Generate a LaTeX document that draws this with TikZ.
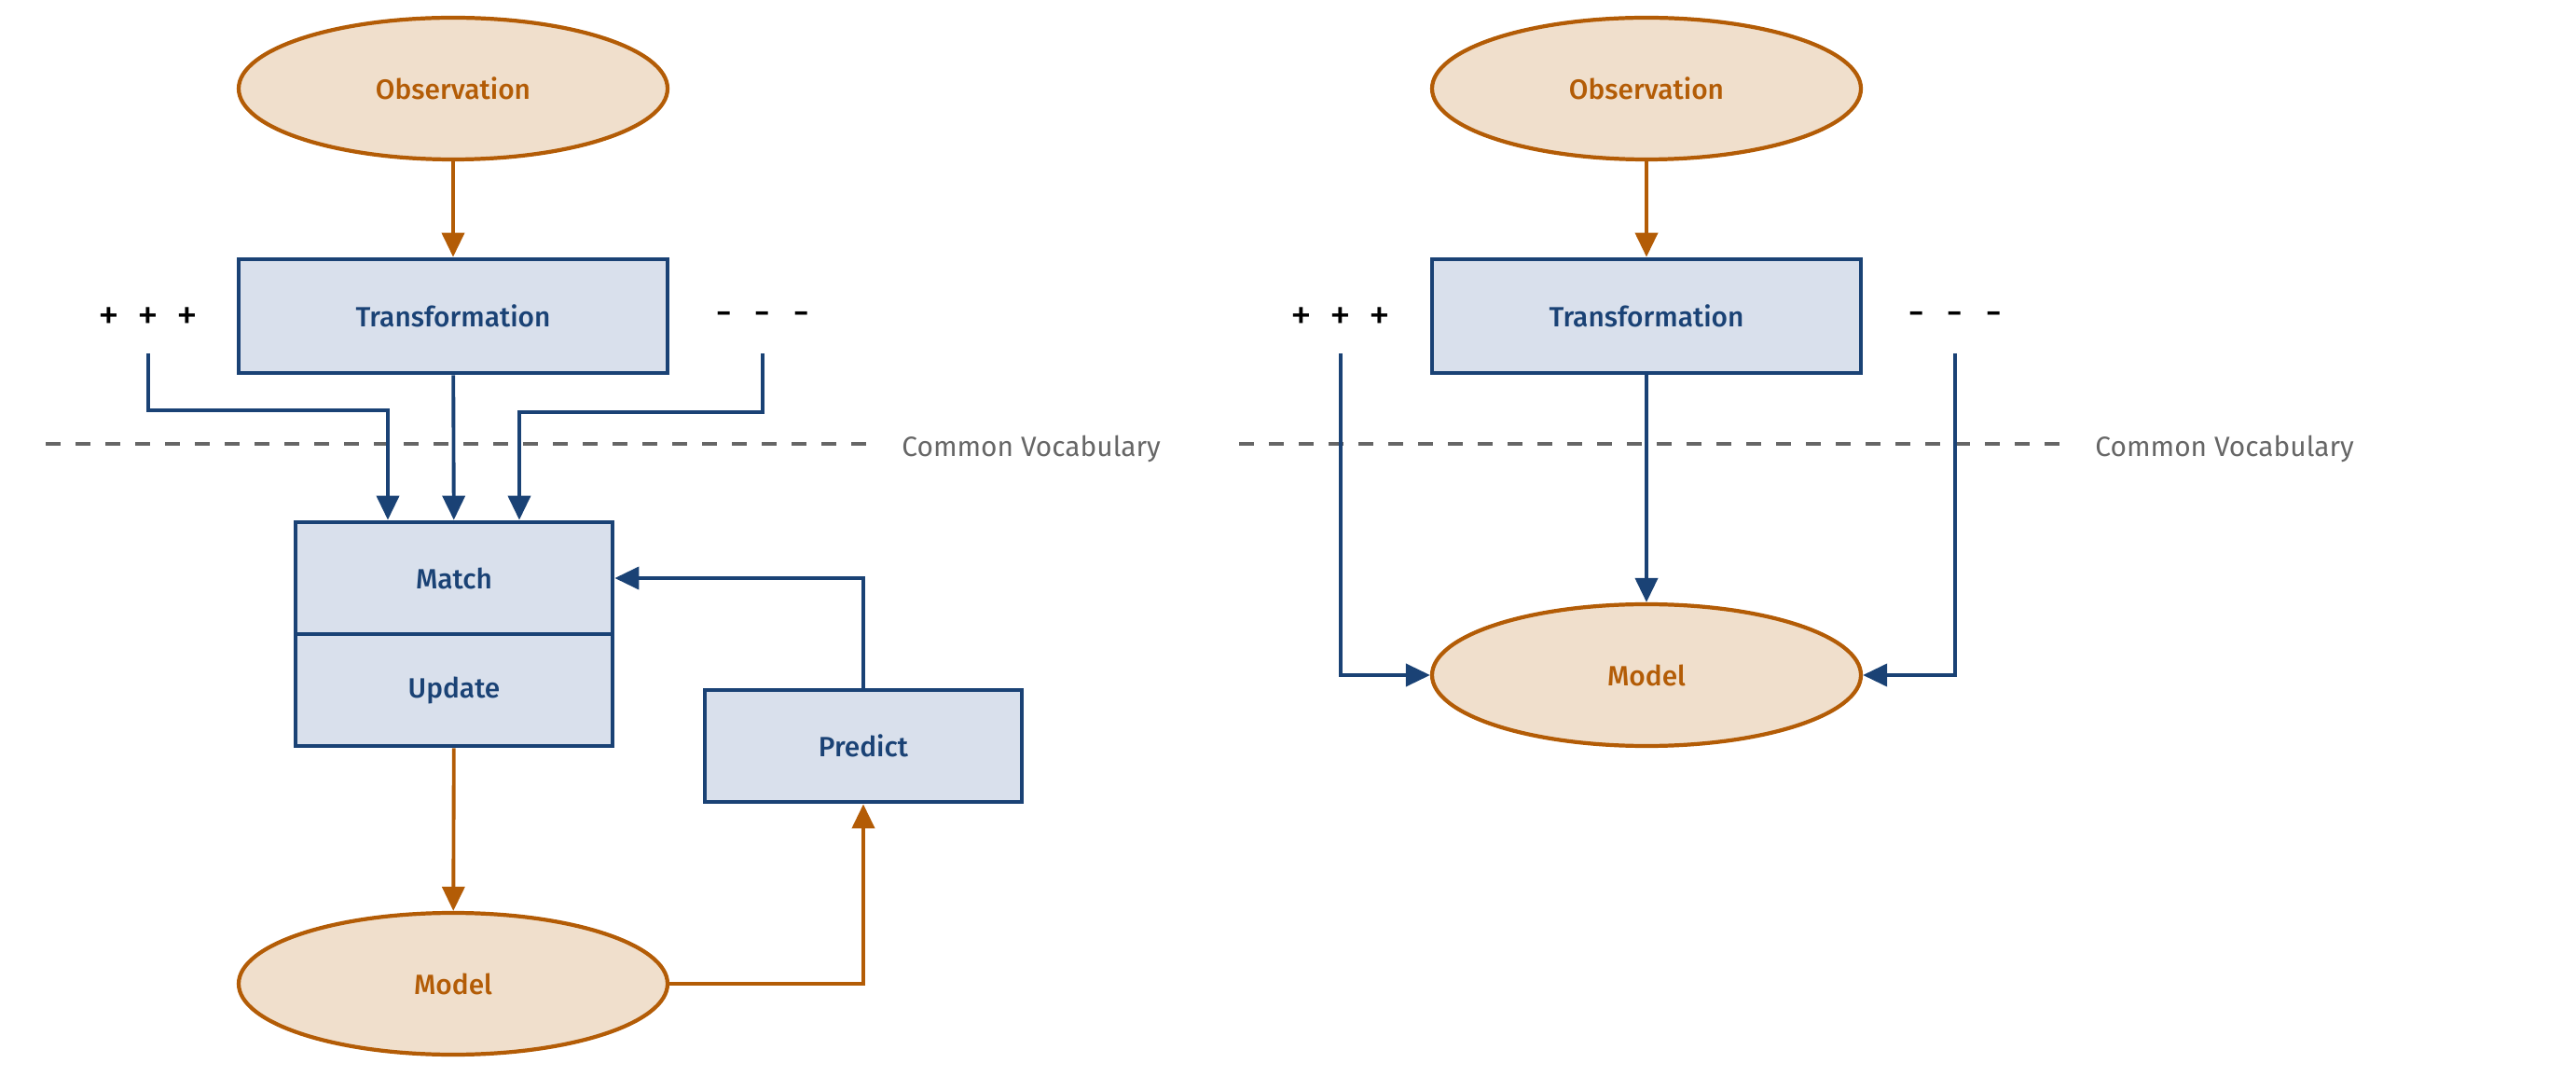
\documentclass[tikz,border=0pt]{standalone}
\usepackage{fontspec}
\setmainfont{Fira Sans}[BoldFont={Fira Sans Medium}]
\usetikzlibrary{shapes.geometric}
\usetikzlibrary{arrows.meta}
\definecolor{orangerand}{HTML}{B35C06}
\definecolor{orangefuell}{HTML}{F0DFCC}
\definecolor{blaurand}{HTML}{1A4275}
\definecolor{blaufuell}{HTML}{D9E0EC}
\definecolor{grau}{HTML}{666666}

\begin{document}
\begin{tikzpicture} [ font=\fontsize{8.5}{10}\selectfont
								, zustand/.style={ellipse, minimum width=4.6cm, minimum height=1.52cm, inner sep=0pt, line width=1.2pt, draw=orangerand, fill=orangefuell, text=orangerand, font=\fontsize{8.5}{10}\selectfont\bfseries}
								, prozess/.style={rectangle, minimum width=4.6cm, minimum height=1.22cm, inner sep=0pt, line width=1.35pt, draw=blaurand, fill=blaufuell, text=blaurand, font=\fontsize{8.5}{10}\selectfont\bfseries}
								, teil/.style={prozess, minimum width=3.4cm, minimum height=1.2cm}
								, vorzeichen/.style={inner sep=0pt, text=black, font=\fontsize{13}{14}\selectfont}
								, trenner/.style={grau, line width=1.1pt, dash pattern=on 0.16cm off 0.16cm}
								, beschriftung/.style={anchor=west, text=grau}
								, blaupfeil/.style ={draw=blaurand, line width=1.1pt, arrows={-Triangle[length=0.26cm, width=0.24cm]}}
								, orangepfeil/.style ={draw=orangerand, line width=1.1pt, arrows={-Triangle[length=0.26cm, width=0.24cm]}}
								]
	\useasboundingbox (0,0) rectangle (27.63,-11.70);

	% links
	\node (ObservationL) 	[zustand] at (4.86,-0.95) {Observation};
	\node (TransformationL) [prozess, node distance=2.44cm, below of = ObservationL] {Transformation};
	\node (PlusL) 			[vorzeichen] at (1.59,-3.42) {+\hspace{0.19cm}+\hspace{0.19cm}+};
	\node (MinusL) 			[vorzeichen] at (8.18,-3.42) {-\hspace{0.23cm}-\hspace{0.23cm}-};
	\node (Match) 			[teil] at (4.87,-6.20) {Match};
	\node (Update) 			[teil, node distance=1.2cm, below of = Match] {Update};
	\node (Predict) 		[teil] at (9.26,-8.00) {Predict};
	\node (ModelL) 			[zustand] at (4.86,-10.55) {Model};

	\draw [trenner] (0.49,-4.76) -- (9.35,-4.76);
	\node (VokabularL) 		[beschriftung] at (9.55,-4.81) {Common Vocabulary};

	\draw [orangepfeil] (ObservationL) -- (TransformationL);
	\draw [blaupfeil] (TransformationL) -- (Match);
	\draw [blaupfeil] ([yshift=-0.37cm]PlusL.center) |- ([xshift=-0.71cm, yshift=1.18cm]Match.north) -- ([xshift=-0.71cm]Match.north);
	\draw [blaupfeil] ([yshift=-0.37cm]MinusL.center) |- ([xshift=0.70cm, yshift=1.16cm]Match.north) -- ([xshift=0.70cm]Match.north);
	\draw [blaupfeil] (Predict.north) |- (Match.east);
	\draw [orangepfeil] (Update) -- (ModelL);
	\draw [orangepfeil] (ModelL.east) -| (Predict.south);

	% rechts
	\node (ObservationR) 	[zustand] at (17.66,-0.95) {Observation};
	\node (TransformationR) [prozess, node distance=2.44cm, below of = ObservationR] {Transformation};
	\node (PlusR) 			[vorzeichen] at (14.38,-3.42) {+\hspace{0.19cm}+\hspace{0.19cm}+};
	\node (MinusR) 			[vorzeichen] at (20.97,-3.42) {-\hspace{0.23cm}-\hspace{0.23cm}-};
	\node (ModelR) 			[zustand, node distance=3.85cm, below of = TransformationR] {Model};

	\draw [trenner] (13.29,-4.76) -- (22.15,-4.76);
	\node (VokabularR) 		[beschriftung] at (22.35,-4.81) {Common Vocabulary};

	\draw [orangepfeil] (ObservationR) -- (TransformationR);
	\draw [blaupfeil] (TransformationR) -- (ModelR);
	\draw [blaupfeil] ([yshift=-0.37cm]PlusR.center) |- (ModelR.west);
	\draw [blaupfeil] ([yshift=-0.37cm]MinusR.center) |- (ModelR.east);

\end{tikzpicture}
\end{document}
